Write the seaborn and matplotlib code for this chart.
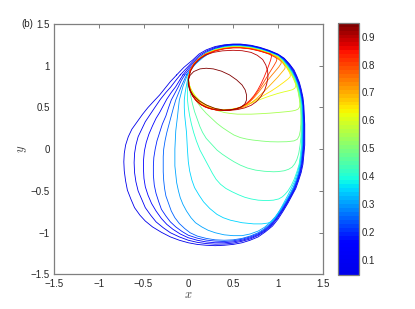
import numpy as np
import pandas as pd
import matplotlib
matplotlib.use("Agg")
import matplotlib.pyplot as plt
from matplotlib.colors import LinearSegmentedColormap
import seaborn as sns

# parameter value of each closed curve (colour)
levels = [0.05, 0.10, 0.15, 0.20, 0.25, 0.30, 0.35, 0.40, 0.45, 0.50,
          0.55, 0.60, 0.65, 0.70, 0.75, 0.80, 0.85, 0.90, 0.95]

# curve points (x, y), clockwise from the top-left
c05 = [(-0.13, 0.89), (-0.05, 0.98), (0.05, 1.07), (0.12, 1.14), (0.2, 1.19), (0.3, 1.23), (0.4, 1.25),
       (0.5, 1.26), (0.58, 1.26), (0.7, 1.245), (0.8, 1.22), (0.9, 1.185), (1.0, 1.14), (1.07, 1.09),
       (1.13, 1.02), (1.18, 0.95), (1.21, 0.88), (1.24, 0.8), (1.26, 0.72), (1.28, 0.62), (1.29, 0.52),
       (1.30, 0.3), (1.30, 0.05), (1.29, -0.07), (1.28, -0.18), (1.26, -0.28), (1.23, -0.38), (1.2, -0.47),
       (1.16, -0.55), (1.11, -0.65), (1.06, -0.74), (1.0, -0.84), (0.94, -0.92), (0.86, -0.99), (0.78, -1.05),
       (0.69, -1.09), (0.6, -1.12), (0.5, -1.14), (0.4, -1.15), (0.3, -1.155), (0.2, -1.15), (0.1, -1.14),
       (0.0, -1.12), (-0.1, -1.09), (-0.2, -1.05), (-0.3, -0.995), (-0.4, -0.93), (-0.48, -0.86),
       (-0.54, -0.79), (-0.6, -0.7), (-0.64, -0.6), (-0.68, -0.49), (-0.70, -0.38), (-0.715, -0.26),
       (-0.72, -0.15), (-0.715, -0.05), (-0.70, 0.05), (-0.67, 0.15), (-0.63, 0.24), (-0.57, 0.33),
       (-0.51, 0.42), (-0.45, 0.5), (-0.39, 0.57), (-0.32, 0.65), (-0.26, 0.73), (-0.2, 0.81)]
c10 = [(-0.09, 0.89), (-0.02, 0.97), (0.06, 1.06), (0.13, 1.13), (0.21, 1.18), (0.3, 1.22), (0.4, 1.245),
       (0.5, 1.255), (0.58, 1.255), (0.7, 1.24), (0.8, 1.215), (0.9, 1.18), (1.0, 1.135), (1.07, 1.085),
       (1.13, 1.015), (1.175, 0.945), (1.205, 0.875), (1.235, 0.795), (1.255, 0.715), (1.275, 0.62),
       (1.285, 0.52), (1.295, 0.3), (1.293, 0.05), (1.283, -0.07), (1.272, -0.18), (1.252, -0.28),
       (1.222, -0.38), (1.192, -0.467), (1.152, -0.55), (1.102, -0.647), (1.052, -0.737), (0.992, -0.832),
       (0.932, -0.91), (0.86, -0.978), (0.78, -1.033), (0.69, -1.075), (0.6, -1.102), (0.5, -1.125),
       (0.4, -1.135), (0.3, -1.137), (0.2, -1.13), (0.1, -1.115), (0.0, -1.09), (-0.1, -1.05), (-0.2, -1.0),
       (-0.28, -0.94), (-0.36, -0.87), (-0.42, -0.79), (-0.48, -0.7), (-0.52, -0.6), (-0.56, -0.5),
       (-0.585, -0.39), (-0.60, -0.28), (-0.605, -0.16), (-0.60, -0.05), (-0.585, 0.05), (-0.56, 0.15),
       (-0.52, 0.24), (-0.48, 0.33), (-0.43, 0.41), (-0.38, 0.49), (-0.31, 0.6), (-0.25, 0.68),
       (-0.2, 0.74), (-0.15, 0.81)]
c15 = [(-0.06, 0.89), (0.0, 0.97), (0.07, 1.05), (0.14, 1.12), (0.22, 1.172), (0.3, 1.21), (0.4, 1.24),
       (0.5, 1.25), (0.58, 1.25), (0.7, 1.235), (0.8, 1.21), (0.9, 1.175), (1.0, 1.13), (1.065, 1.08),
       (1.125, 1.01), (1.17, 0.94), (1.2, 0.87), (1.23, 0.79), (1.25, 0.71), (1.27, 0.62), (1.28, 0.52),
       (1.29, 0.3), (1.287, 0.05), (1.277, -0.07), (1.266, -0.18), (1.246, -0.28), (1.216, -0.38),
       (1.186, -0.466), (1.146, -0.55), (1.096, -0.645), (1.046, -0.735), (0.986, -0.826), (0.926, -0.905),
       (0.856, -0.97), (0.78, -1.022), (0.69, -1.062), (0.6, -1.09), (0.5, -1.11), (0.4, -1.12),
       (0.3, -1.12), (0.2, -1.11), (0.1, -1.09), (0.0, -1.06), (-0.09, -1.015), (-0.17, -0.96),
       (-0.24, -0.9), (-0.3, -0.83), (-0.36, -0.74), (-0.41, -0.65), (-0.45, -0.55), (-0.48, -0.45),
       (-0.495, -0.35), (-0.50, -0.25), (-0.50, -0.13), (-0.49, -0.02), (-0.47, 0.08), (-0.44, 0.18),
       (-0.4, 0.28), (-0.36, 0.37), (-0.32, 0.44), (-0.29, 0.5), (-0.24, 0.6), (-0.19, 0.68),
       (-0.14, 0.75), (-0.1, 0.82)]
c20 = [(-0.04, 0.89), (0.02, 0.97), (0.08, 1.04), (0.15, 1.11), (0.23, 1.165), (0.31, 1.205), (0.4, 1.232),
       (0.5, 1.245), (0.58, 1.245), (0.7, 1.23), (0.8, 1.205), (0.9, 1.17), (1.0, 1.125), (1.06, 1.075),
       (1.12, 1.005), (1.165, 0.935), (1.198, 0.862), (1.228, 0.785), (1.248, 0.705), (1.265, 0.615),
       (1.277, 0.52), (1.285, 0.3), (1.282, 0.05), (1.272, -0.07), (1.261, -0.18), (1.24, -0.28),
       (1.21, -0.38), (1.18, -0.465), (1.14, -0.55), (1.09, -0.645), (1.04, -0.732), (0.98, -0.822),
       (0.92, -0.9), (0.852, -0.962), (0.78, -1.011), (0.69, -1.05), (0.6, -1.078), (0.5, -1.097),
       (0.4, -1.105), (0.3, -1.1), (0.2, -1.088), (0.1, -1.065), (0.0, -1.03), (-0.07, -0.985),
       (-0.14, -0.93), (-0.2, -0.87), (-0.25, -0.8), (-0.3, -0.72), (-0.33, -0.63), (-0.36, -0.53),
       (-0.38, -0.43), (-0.39, -0.31), (-0.39, -0.2), (-0.385, -0.1), (-0.37, 0.0), (-0.35, 0.1),
       (-0.32, 0.2), (-0.29, 0.3), (-0.25, 0.4), (-0.22, 0.5), (-0.19, 0.59), (-0.15, 0.67),
       (-0.11, 0.75), (-0.08, 0.82)]
c25 = [(-0.02, 0.89), (0.03, 0.965), (0.09, 1.035), (0.16, 1.1), (0.24, 1.157), (0.32, 1.2), (0.4, 1.226),
       (0.5, 1.24), (0.58, 1.24), (0.7, 1.225), (0.8, 1.2), (0.9, 1.165), (1.0, 1.12), (1.06, 1.07),
       (1.115, 1.0), (1.16, 0.93), (1.195, 0.857), (1.224, 0.78), (1.244, 0.7), (1.26, 0.612),
       (1.273, 0.52), (1.28, 0.3), (1.277, 0.05), (1.267, -0.07), (1.256, -0.18), (1.235, -0.28),
       (1.205, -0.38), (1.175, -0.462), (1.135, -0.547), (1.085, -0.64), (1.035, -0.727), (0.975, -0.816),
       (0.915, -0.892), (0.85, -0.952), (0.78, -1.0), (0.69, -1.04), (0.6, -1.068), (0.5, -1.085),
       (0.4, -1.09), (0.3, -1.085), (0.2, -1.068), (0.1, -1.04), (0.02, -1.0), (-0.04, -0.95),
       (-0.1, -0.89), (-0.15, -0.82), (-0.19, -0.74), (-0.22, -0.65), (-0.25, -0.56), (-0.265, -0.47),
       (-0.275, -0.37), (-0.28, -0.27), (-0.28, -0.18), (-0.28, -0.09), (-0.275, 0.0), (-0.26, 0.1),
       (-0.24, 0.2), (-0.215, 0.3), (-0.19, 0.4), (-0.165, 0.5), (-0.14, 0.59), (-0.11, 0.67),
       (-0.08, 0.75), (-0.05, 0.82)]
c30 = [(-0.01, 0.89), (0.035, 0.965), (0.09, 1.03), (0.16, 1.095), (0.24, 1.153), (0.32, 1.197),
       (0.4, 1.223), (0.5, 1.237), (0.58, 1.237), (0.7, 1.222), (0.8, 1.197), (0.9, 1.162), (1.0, 1.117),
       (1.058, 1.067), (1.112, 0.997), (1.157, 0.927), (1.192, 0.853), (1.22, 0.777), (1.24, 0.697),
       (1.256, 0.61), (1.268, 0.52), (1.275, 0.3), (1.272, 0.05), (1.262, -0.07), (1.25, -0.18),
       (1.23, -0.28), (1.2, -0.38), (1.17, -0.46), (1.13, -0.545), (1.08, -0.635), (1.03, -0.72),
       (0.97, -0.81), (0.91, -0.88), (0.85, -0.935), (0.78, -0.98), (0.69, -1.015), (0.6, -1.035),
       (0.5, -1.035), (0.4, -1.025), (0.3, -1.0), (0.22, -0.97), (0.15, -0.93), (0.08, -0.88),
       (0.03, -0.82), (-0.02, -0.74), (-0.06, -0.66), (-0.09, -0.58), (-0.11, -0.5), (-0.13, -0.4),
       (-0.14, -0.3), (-0.15, -0.2), (-0.15, -0.1), (-0.15, 0.0), (-0.145, 0.11), (-0.14, 0.22),
       (-0.13, 0.31), (-0.12, 0.4), (-0.11, 0.5), (-0.1, 0.59), (-0.08, 0.67), (-0.06, 0.75),
       (-0.035, 0.82)]
c35 = [(0.0, 0.88), (0.03, 0.96), (0.07, 1.035), (0.12, 1.09), (0.2, 1.152), (0.3, 1.197), (0.4, 1.222),
       (0.5, 1.234), (0.58, 1.234), (0.7, 1.22), (0.8, 1.195), (0.9, 1.16), (1.0, 1.115), (1.056, 1.065),
       (1.11, 0.995), (1.155, 0.925), (1.19, 0.851), (1.218, 0.775), (1.238, 0.695), (1.254, 0.608),
       (1.266, 0.52), (1.272, 0.3), (1.268, 0.05), (1.257, -0.07), (1.243, -0.18), (1.218, -0.28),
       (1.188, -0.38), (1.152, -0.465), (1.112, -0.55), (1.072, -0.63), (1.032, -0.71), (0.995, -0.78),
       (0.965, -0.828), (0.935, -0.862), (0.89, -0.884), (0.82, -0.894), (0.73, -0.894), (0.6, -0.88),
       (0.47, -0.85), (0.39, -0.82), (0.32, -0.78), (0.24, -0.71), (0.17, -0.63), (0.12, -0.55),
       (0.07, -0.46), (0.04, -0.37), (0.015, -0.26), (0.0, -0.15), (-0.01, 0.0), (-0.015, 0.1),
       (-0.02, 0.2), (-0.03, 0.3), (-0.04, 0.4), (-0.045, 0.5), (-0.045, 0.59), (-0.035, 0.68),
       (-0.02, 0.77)]
c40 = [(0.0, 0.875), (0.03, 0.958), (0.07, 1.033), (0.12, 1.088), (0.2, 1.15), (0.3, 1.195), (0.4, 1.22),
       (0.5, 1.232), (0.58, 1.232), (0.7, 1.218), (0.8, 1.193), (0.9, 1.158), (1.0, 1.113), (1.054, 1.063),
       (1.107, 0.993), (1.152, 0.923), (1.187, 0.849), (1.215, 0.773), (1.235, 0.693), (1.251, 0.606),
       (1.262, 0.52), (1.268, 0.3), (1.263, 0.05), (1.252, -0.07), (1.237, -0.18), (1.212, -0.27),
       (1.182, -0.36), (1.147, -0.44), (1.112, -0.5), (1.08, -0.54), (1.05, -0.57), (1.01, -0.595),
       (0.95, -0.61), (0.87, -0.615), (0.78, -0.61), (0.7, -0.595), (0.63, -0.575), (0.56, -0.545),
       (0.49, -0.51), (0.42, -0.47), (0.36, -0.42), (0.31, -0.36), (0.27, -0.29), (0.23, -0.21),
       (0.18, -0.11), (0.13, -0.01), (0.09, 0.1), (0.06, 0.2), (0.035, 0.3), (0.015, 0.4), (0.0, 0.5),
       (-0.01, 0.6), (-0.01, 0.7), (-0.005, 0.79)]
c45 = [(0.0, 0.87), (0.03, 0.956), (0.07, 1.031), (0.12, 1.086), (0.2, 1.148), (0.3, 1.193), (0.4, 1.218),
       (0.5, 1.23), (0.58, 1.23), (0.7, 1.216), (0.8, 1.191), (0.9, 1.156), (1.0, 1.111), (1.052, 1.061),
       (1.104, 0.991), (1.149, 0.921), (1.184, 0.847), (1.212, 0.771), (1.232, 0.691), (1.248, 0.604),
       (1.258, 0.52), (1.263, 0.4), (1.263, 0.3), (1.258, 0.15), (1.248, 0.05), (1.233, -0.05),
       (1.213, -0.12), (1.188, -0.175), (1.158, -0.215), (1.12, -0.24), (1.07, -0.258), (1.0, -0.268),
       (0.95, -0.27), (0.85, -0.264), (0.75, -0.25), (0.66, -0.225), (0.58, -0.19), (0.51, -0.15),
       (0.45, -0.11), (0.38, -0.06), (0.32, -0.01), (0.26, 0.06), (0.2, 0.13), (0.16, 0.2), (0.13, 0.27),
       (0.1, 0.36), (0.07, 0.45), (0.045, 0.55), (0.025, 0.65), (0.01, 0.76)]
c50 = [(0.0, 0.865), (0.03, 0.953), (0.07, 1.029), (0.12, 1.084), (0.2, 1.146), (0.3, 1.191), (0.4, 1.216),
       (0.5, 1.228), (0.58, 1.228), (0.7, 1.214), (0.8, 1.189), (0.9, 1.154), (1.0, 1.109), (1.05, 1.059),
       (1.101, 0.989), (1.146, 0.919), (1.181, 0.845), (1.209, 0.769), (1.229, 0.689), (1.244, 0.602),
       (1.253, 0.5), (1.257, 0.4), (1.256, 0.3), (1.25, 0.22), (1.238, 0.16), (1.218, 0.12), (1.18, 0.1),
       (1.1, 0.09), (1.0, 0.088), (0.91, 0.09), (0.82, 0.098), (0.72, 0.11), (0.65, 0.122), (0.58, 0.14),
       (0.51, 0.17), (0.45, 0.21), (0.38, 0.26), (0.32, 0.31), (0.26, 0.37), (0.2, 0.43), (0.15, 0.49),
       (0.1, 0.56), (0.06, 0.63), (0.03, 0.7), (0.01, 0.78)]
c55 = [(0.0, 0.86), (0.025, 0.95), (0.065, 1.027), (0.115, 1.082), (0.195, 1.144), (0.3, 1.189),
       (0.4, 1.214), (0.5, 1.226), (0.58, 1.226), (0.7, 1.212), (0.8, 1.187), (0.9, 1.152), (1.0, 1.107),
       (1.05, 1.057), (1.1, 0.987), (1.144, 0.917), (1.179, 0.843), (1.206, 0.767), (1.226, 0.685),
       (1.24, 0.6), (1.246, 0.545), (1.242, 0.505), (1.225, 0.48), (1.195, 0.466), (1.16, 0.458),
       (1.1, 0.45), (1.0, 0.44), (0.91, 0.432), (0.8, 0.425), (0.7, 0.42), (0.62, 0.42), (0.55, 0.42),
       (0.47, 0.428), (0.4, 0.44), (0.32, 0.465), (0.25, 0.5), (0.18, 0.54), (0.13, 0.58), (0.08, 0.63),
       (0.05, 0.68), (0.02, 0.74), (0.005, 0.8)]
c60 = [(0.0, 0.855), (0.025, 0.948), (0.065, 1.025), (0.115, 1.08), (0.195, 1.142), (0.3, 1.187),
       (0.4, 1.212), (0.5, 1.224), (0.58, 1.224), (0.7, 1.21), (0.8, 1.185), (0.9, 1.15), (1.0, 1.105),
       (1.048, 1.055), (1.098, 0.985), (1.141, 0.915), (1.175, 0.84), (1.196, 0.785), (1.2, 0.755),
       (1.19, 0.732), (1.165, 0.714), (1.12, 0.7), (1.06, 0.685), (1.0, 0.668), (0.9, 0.634),
       (0.8, 0.595), (0.71, 0.555), (0.62, 0.52), (0.55, 0.495), (0.48, 0.48), (0.41, 0.475), (0.35, 0.478),
       (0.28, 0.495), (0.22, 0.52), (0.16, 0.555), (0.12, 0.59), (0.08, 0.635), (0.05, 0.68), (0.02, 0.74),
       (0.005, 0.8)]
c65 = [(0.0, 0.85), (0.022, 0.946), (0.062, 1.023), (0.112, 1.078), (0.192, 1.14), (0.3, 1.185),
       (0.4, 1.21), (0.5, 1.222), (0.58, 1.222), (0.7, 1.208), (0.8, 1.183), (0.9, 1.148), (1.0, 1.103),
       (1.046, 1.053), (1.095, 0.983), (1.126, 0.925), (1.14, 0.89), (1.136, 0.865), (1.115, 0.843),
       (1.07, 0.805), (1.0, 0.75), (0.93, 0.7), (0.85, 0.65), (0.77, 0.6), (0.7, 0.556), (0.62, 0.516),
       (0.55, 0.49), (0.48, 0.476), (0.42, 0.47), (0.35, 0.472), (0.28, 0.487), (0.21, 0.515),
       (0.15, 0.55), (0.1, 0.6), (0.06, 0.65), (0.03, 0.7), (0.01, 0.77)]
c70 = [(0.0, 0.845), (0.022, 0.944), (0.062, 1.021), (0.112, 1.076), (0.192, 1.138), (0.3, 1.183),
       (0.4, 1.208), (0.5, 1.22), (0.58, 1.22), (0.7, 1.206), (0.8, 1.181), (0.9, 1.146), (0.98, 1.108),
       (1.03, 1.065), (1.065, 1.02), (1.082, 0.99), (1.078, 0.965), (1.055, 0.935), (1.0, 0.865),
       (0.94, 0.797), (0.88, 0.73), (0.82, 0.665), (0.76, 0.605), (0.7, 0.552), (0.64, 0.512),
       (0.58, 0.489), (0.52, 0.476), (0.46, 0.468), (0.4, 0.465), (0.33, 0.47), (0.27, 0.485),
       (0.2, 0.51), (0.14, 0.545), (0.1, 0.59), (0.06, 0.64), (0.03, 0.69), (0.01, 0.76)]
c75 = [(0.0, 0.84), (0.02, 0.942), (0.06, 1.019), (0.11, 1.074), (0.19, 1.136), (0.3, 1.181),
       (0.4, 1.206), (0.5, 1.218), (0.58, 1.218), (0.7, 1.204), (0.8, 1.179), (0.9, 1.144), (0.97, 1.105),
       (1.015, 1.072), (1.038, 1.05), (1.035, 1.025), (1.01, 0.985), (0.975, 0.94), (0.935, 0.89),
       (0.89, 0.83), (0.84, 0.76), (0.79, 0.69), (0.74, 0.625), (0.69, 0.57), (0.64, 0.53), (0.58, 0.498),
       (0.52, 0.48), (0.46, 0.47), (0.4, 0.465), (0.33, 0.468), (0.27, 0.48), (0.2, 0.505), (0.14, 0.54),
       (0.09, 0.59), (0.05, 0.64), (0.025, 0.69), (0.01, 0.76)]
c80 = [(0.0, 0.835), (0.02, 0.94), (0.06, 1.017), (0.11, 1.072), (0.19, 1.134), (0.3, 1.179),
       (0.4, 1.204), (0.5, 1.216), (0.58, 1.216), (0.7, 1.202), (0.8, 1.177), (0.88, 1.148),
       (0.94, 1.118), (0.975, 1.098), (0.99, 1.08), (0.982, 1.05), (0.955, 1.0), (0.92, 0.94),
       (0.88, 0.87), (0.84, 0.8), (0.8, 0.73), (0.755, 0.66), (0.71, 0.6), (0.66, 0.55), (0.6, 0.508),
       (0.53, 0.485), (0.46, 0.47), (0.4, 0.465), (0.33, 0.467), (0.26, 0.48), (0.19, 0.505), (0.13, 0.54),
       (0.08, 0.59), (0.05, 0.64), (0.025, 0.69), (0.01, 0.76)]
c85 = [(0.0, 0.83), (0.02, 0.938), (0.06, 1.015), (0.11, 1.07), (0.19, 1.132), (0.3, 1.177),
       (0.4, 1.202), (0.5, 1.214), (0.58, 1.214), (0.68, 1.203), (0.76, 1.185), (0.83, 1.165),
       (0.885, 1.148), (0.92, 1.14), (0.93, 1.12), (0.92, 1.07), (0.9, 1.01), (0.875, 0.94), (0.845, 0.86),
       (0.81, 0.78), (0.775, 0.71), (0.735, 0.645), (0.69, 0.588), (0.64, 0.542), (0.58, 0.502),
       (0.52, 0.48), (0.46, 0.47), (0.4, 0.465), (0.33, 0.467), (0.26, 0.48), (0.19, 0.505), (0.13, 0.54),
       (0.08, 0.59), (0.05, 0.64), (0.025, 0.69), (0.01, 0.76)]
c90 = [(0.0, 0.83), (0.025, 0.935), (0.07, 1.02), (0.13, 1.085), (0.2, 1.13), (0.28, 1.16), (0.38, 1.178),
       (0.5, 1.185), (0.6, 1.18), (0.7, 1.16), (0.77, 1.125), (0.83, 1.075), (0.865, 1.01), (0.885, 0.94),
       (0.89, 0.87), (0.875, 0.78), (0.85, 0.7), (0.81, 0.63), (0.76, 0.57), (0.7, 0.525), (0.63, 0.495),
       (0.55, 0.475), (0.46, 0.465), (0.38, 0.465), (0.3, 0.473), (0.22, 0.495), (0.15, 0.53),
       (0.09, 0.58), (0.045, 0.64), (0.015, 0.71), (0.0, 0.77)]
c95 = [(0.0, 0.83), (0.02, 0.885), (0.06, 0.93), (0.13, 0.962), (0.2, 0.97), (0.28, 0.962), (0.37, 0.935),
       (0.46, 0.89), (0.54, 0.83), (0.6, 0.77), (0.635, 0.71), (0.65, 0.65), (0.65, 0.59), (0.63, 0.54),
       (0.59, 0.505), (0.54, 0.485), (0.47, 0.472), (0.39, 0.47), (0.3, 0.488), (0.2, 0.53), (0.12, 0.58),
       (0.05, 0.65), (0.015, 0.72), (0.0, 0.78)]

curves = [c05, c10, c15, c20, c25, c30, c35, c40, c45, c50,
          c55, c60, c65, c70, c75, c80, c85, c90, c95]

rows = []
for lev, pts in zip(levels, curves):
    pts = pts + [pts[0]]  # close the loop
    for i, (x, y) in enumerate(pts):
        rows.append({"x": x, "y": y, "level": lev, "i": i})
df = pd.DataFrame(rows)

# jet-like map, but starting from plain blue as in the figure
jetlike = LinearSegmentedColormap("jetlike", {
    "red": [(0, 0, 0), (0.35, 0, 0), (0.66, 1, 1), (0.89, 1, 1), (1, 0.5, 0.5)],
    "green": [(0, 0, 0), (0.125, 0, 0), (0.375, 1, 1), (0.64, 1, 1), (0.91, 0, 0), (1, 0, 0)],
    "blue": [(0, 0.92, 0.92), (0.11, 1, 1), (0.34, 1, 1), (0.65, 0, 0), (1, 0, 0)],
}, N=64)

sns.set_style("white")
plt.rcParams["font.family"] = ["Liberation Sans", "DejaVu Sans"]
plt.rcParams["mathtext.fontset"] = "cm"

vmin, vmax = 0.045, 0.95
fig = plt.figure(figsize=(4.15, 3.09), dpi=100)
ax = fig.add_axes([0.130, 0.1117, 0.6475, 0.8107])
sns.lineplot(data=df, x="x", y="y", hue="level", units="level", estimator=None,
             sort=False, palette=jetlike, hue_norm=(vmin, vmax), linewidth=0.6,
             legend=False, ax=ax)

ax.set_xlim(-1.5, 1.5)
ax.set_ylim(-1.5, 1.5)
ticks = [-1.5, -1, -0.5, 0, 0.5, 1, 1.5]
ticklab = ["\u22121.5", "\u22121", "\u22120.5", "0", "0.5", "1", "1.5"]
ax.set_xticks(ticks)
ax.set_xticklabels(ticklab)
ax.set_yticks(ticks)
ax.set_yticklabels(ticklab)
ax.tick_params(direction="in", length=3, width=0.6, color="#666666", labelsize=7,
               top=True, right=True, pad=3)
for s in ax.spines.values():
    s.set_color("#7f7f7f")
    s.set_linewidth(0.9)
ax.set_xlabel("$x$", fontsize=9, labelpad=0, color="#444444")
ax.set_ylabel("$y$", fontsize=9, labelpad=1, color="#444444")

cax = fig.add_axes([0.815, 0.110, 0.050, 0.8165])
sm = plt.cm.ScalarMappable(cmap=jetlike, norm=plt.Normalize(vmin, vmax))
cb = fig.colorbar(sm, cax=cax, ticks=[0.1, 0.2, 0.3, 0.4, 0.5, 0.6, 0.7, 0.8, 0.9])
cb.ax.set_yticklabels(["0.1", "0.2", "0.3", "0.4", "0.5", "0.6", "0.7", "0.8", "0.9"])
cb.ax.tick_params(direction="in", length=2, width=0.6, color="#666666", labelsize=7,
                  left=True, right=True, pad=2)
cb.outline.set_edgecolor("#7f7f7f")
cb.outline.set_linewidth(0.9)

fig.text(0.052, 0.922, "(b)", fontsize=7, va="center", ha="left")

fig.savefig("out.png", dpi=100)
